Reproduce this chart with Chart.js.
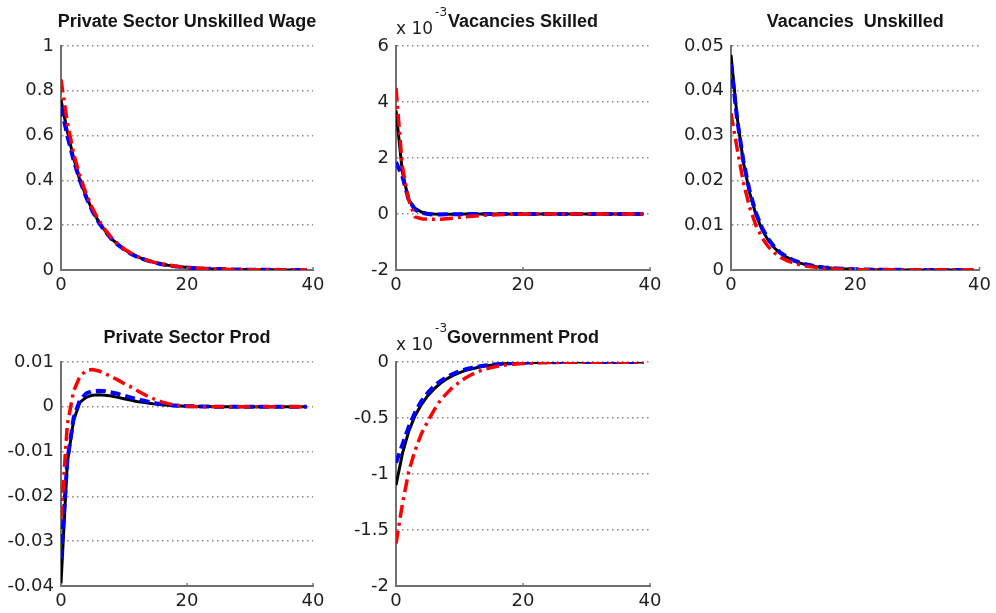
<!DOCTYPE html>
<html><head><meta charset="utf-8">
<script src="https://cdn.jsdelivr.net/npm/chart.js@4.4.0/dist/chart.umd.min.js"></script>
<style>
html,body{margin:0;padding:0;background:#fff;}
body{width:996px;height:613px;position:relative;overflow:hidden;}
canvas{position:absolute;}
</style></head><body>
<canvas id="c1" width="330" height="300" style="left:0;top:0"></canvas>
<canvas id="c2" width="330" height="300" style="left:340px;top:0"></canvas>
<canvas id="c3" width="326" height="300" style="left:670px;top:0"></canvas>
<canvas id="c4" width="330" height="303" style="left:0;top:310px"></canvas>
<canvas id="c5" width="330" height="303" style="left:340px;top:310px"></canvas>
<script>
// ---- categories (periods after the shock) ----
const periods = Array.from({length: 40}, (_, i) => i);
const xTickValues = [0, 20, 40];
const xTickLabels = ['0', '20', '40'];

// ---- Private Sector Unskilled Wage ----
const wageTicks = [0, 0.2, 0.4, 0.6, 0.8, 1];
const wageTickLabels = ['0', '0.2', '0.4', '0.6', '0.8', '1'];
const wageBlack = [0.76,0.62,0.50,0.40,0.33,0.265,0.215,0.175,0.14,0.115,
  0.093,0.075,0.061,0.05,0.04,0.032,0.026,0.021,0.017,0.014,
  0.011,0.009,0.0075,0.006,0.005,0.004,0.0033,0.0027,0.0022,0.0018,
  0.0014,0.0012,0.001,0.0008,0.0006,0.0005,0.0004,0.0003,0.0003,0.0002];
const wageBlue = [0.73,0.60,0.49,0.40,0.325,0.262,0.212,0.172,0.139,0.113,
  0.092,0.074,0.06,0.049,0.04,0.032,0.026,0.021,0.017,0.014,
  0.011,0.009,0.0075,0.006,0.005,0.004,0.0033,0.0027,0.0022,0.0018,
  0.0014,0.0012,0.001,0.0008,0.0006,0.0005,0.0004,0.0003,0.0003,0.0002];
const wageRed = [0.85,0.66,0.52,0.42,0.34,0.275,0.222,0.18,0.145,0.118,
  0.095,0.077,0.062,0.05,0.041,0.033,0.027,0.022,0.018,0.014,
  0.011,0.009,0.0075,0.006,0.005,0.004,0.0033,0.0027,0.0022,0.0018,
  0.0014,0.0012,0.001,0.0008,0.0006,0.0005,0.0004,0.0003,0.0003,0.0002];

// ---- Vacancies Skilled (values in units of 10^-3) ----
const vsTicks = [-2, 0, 2, 4, 6];
const vsTickLabels = ['-2', '0', '2', '4', '6'];
const vsBlack = [3.7,1.5,0.5,0.2,0.07,0.02,0,-0.01,-0.01,-0.01,
  -0.005,0,0,0,0,0,0,0,0,0,
  0,0,0,0,0,0,0,0,0,0,
  0,0,0,0,0,0,0,0,0,0];
const vsBlue = [1.85,1.35,0.5,0.15,0.04,0,-0.02,-0.02,-0.01,-0.01,
  -0.005,0,0,0,0,0,0,0,0,0,
  0,0,0,0,0,0,0,0,0,0,
  0,0,0,0,0,0,0,0,0,0];
const vsRed = [4.5,1.7,0.5,-0.1,-0.17,-0.19,-0.19,-0.19,-0.17,-0.15,
  -0.12,-0.1,-0.08,-0.06,-0.045,-0.035,-0.025,-0.018,-0.012,-0.008,
  -0.005,-0.003,-0.002,-0.001,0,0,0,0,0,0,
  0,0,0,0,0,0,0,0,0,0];

// ---- Vacancies Unskilled ----
const vuTicks = [0, 0.01, 0.02, 0.03, 0.04, 0.05];
const vuTickLabels = ['0', '0.01', '0.02', '0.03', '0.04', '0.05'];
const vuBlack = [0.048,0.034,0.024,0.0172,0.0124,0.009,0.0066,0.0049,0.0037,0.0028,
  0.0021,0.0016,0.0012,0.0009,0.0007,0.00055,0.00042,0.00032,0.00025,0.0002,
  0.00015,0.00012,0.0001,0.00008,0.00006,0.00005,0.00004,0.00003,0.00002,0.00002,
  0.00001,0.00001,0,0,0,0,0,0,0,0];
const vuBlue = [0.046,0.0335,0.0243,0.0176,0.0128,0.0094,0.0069,0.0051,0.0038,0.0029,
  0.0022,0.0017,0.0013,0.001,0.00075,0.00058,0.00045,0.00035,0.00027,0.00021,
  0.00016,0.00012,0.0001,0.00008,0.00006,0.00005,0.00004,0.00003,0.00002,0.00002,
  0.00001,0.00001,0,0,0,0,0,0,0,0];
const vuRed = [0.035,0.027,0.0195,0.014,0.01,0.0072,0.0052,0.0038,0.0028,0.0021,
  0.0016,0.0012,0.0009,0.0007,0.00052,0.0004,0.0003,0.00023,0.00018,0.00014,
  0.0001,0.00008,0.00006,0.00005,0.00004,0.00003,0.00002,0.00002,0.00001,0.00001,
  0,0,0,0,0,0,0,0,0,0];

// ---- Private Sector Prod ----
const ppTicks = [-0.04, -0.03, -0.02, -0.01, 0, 0.01];
const ppTickLabels = ['-0.04', '-0.03', '-0.02', '-0.01', '0', '0.01'];
const ppBlack = [-0.0394,-0.0125,-0.003,0.001,0.0021,0.0026,0.0027,0.0026,0.0024,0.0021,
  0.0018,0.0015,0.0012,0.001,0.0008,0.0006,0.00045,0.00035,0.00025,0.0002,
  0.00015,0.0001,0.00008,0.00006,0.00004,0.00003,0.00002,0.00001,0,0,
  0,0,0,0,0,0,0,0,0,0];
const ppBlue = [-0.034,-0.012,-0.0025,0.0015,0.003,0.0035,0.0036,0.0035,0.0032,0.0029,
  0.0025,0.0021,0.0017,0.0014,0.0011,0.0008,0.0006,0.0004,0.0003,0.0002,
  0.00015,0.0001,0.00008,0.00006,0.00004,0.00003,0.00002,0.00001,0,0,
  0,0,0,0,0,0,0,0,0,0];
const ppRed = [-0.025,-0.004,0.0035,0.0068,0.0081,0.0083,0.008,0.0074,0.0067,0.006,
  0.0052,0.0045,0.0037,0.0029,0.0022,0.0016,0.0011,0.0007,0.0004,0.0002,
  0.0001,0.00005,0,0,0,0,0,0,0,0,
  0,0,0,0,0,0,0,0,0,0];

// ---- Government Prod (values in units of 10^-3) ----
const gpTicks = [-2, -1.5, -1, -0.5, 0];
const gpTickLabels = ['-2', '-1.5', '-1', '-0.5', '0'];
const gpBlack = [-1.1,-0.82,-0.62,-0.48,-0.38,-0.3,-0.24,-0.19,-0.15,-0.12,
  -0.095,-0.075,-0.06,-0.047,-0.036,-0.028,-0.021,-0.016,-0.012,-0.009,
  -0.007,-0.005,-0.004,-0.003,-0.002,-0.0015,-0.001,-0.0008,-0.0006,-0.0004,
  -0.0003,-0.0002,-0.0001,0,0,0,0,0,0,0];
const gpBlue = [-0.9,-0.74,-0.58,-0.45,-0.35,-0.275,-0.215,-0.17,-0.135,-0.105,
  -0.083,-0.065,-0.051,-0.04,-0.031,-0.024,-0.019,-0.015,-0.011,-0.008,
  -0.006,-0.0045,-0.0035,-0.0025,-0.002,-0.0015,-0.001,-0.0008,-0.0006,-0.0004,
  -0.0003,-0.0002,-0.0001,0,0,0,0,0,0,0];
const gpRed = [-1.62,-1.27,-0.98,-0.79,-0.64,-0.53,-0.43,-0.34,-0.28,-0.22,
  -0.18,-0.14,-0.11,-0.085,-0.065,-0.05,-0.038,-0.029,-0.022,-0.017,
  -0.013,-0.01,-0.007,-0.005,-0.004,-0.003,-0.002,-0.0015,-0.001,-0.0008,
  -0.0006,-0.0004,-0.0003,-0.0002,-0.0001,0,0,0,0,0];

// ---- drawing ----
function pts(arr) { return arr.map((v, i) => ({x: periods[i], y: v})); }
const tickFont = {family: "'DejaVu Sans', sans-serif", size: 18};
const titleFont = "bold 18px 'Liberation Sans', Arial, sans-serif";

function panel(id, cfg) {
  const decor = {
    id: 'decor',
    afterDraw(chart) {
      const c = chart.ctx, a = chart.chartArea;
      c.save();
      c.fillStyle = '#151515';
      c.font = titleFont; c.textAlign = 'center'; c.textBaseline = 'middle';
      c.fillText(cfg.title, (a.left + a.right) / 2, a.top - 23.5);
      if (cfg.exp) {
        c.textAlign = 'left';
        c.fillStyle = '#1f1f1f';
        c.font = "17px 'DejaVu Sans', sans-serif";
        c.fillText('x 10', a.left, a.top - 16);
        const w = c.measureText('x 10').width;
        c.font = "12px 'DejaVu Sans', sans-serif";
        c.fillText(cfg.exp, a.left + w + 2, a.top - 33);
      }
      const xs = chart.scales.x;
      c.strokeStyle = '#777'; c.lineWidth = 1.5;
      xTickValues.forEach(v => {
        const px = xs.getPixelForValue(v);
        c.beginPath(); c.moveTo(px, a.bottom); c.lineTo(px, a.bottom - 3); c.stroke();
      });
      c.restore();
    }
  };
  new Chart(document.getElementById(id), {
    type: 'line',
    data: {datasets: [
      {data: pts(cfg.black), borderColor: '#000000', borderWidth: 3, order: 2},
      {data: pts(cfg.blue), borderColor: '#0000ff', borderWidth: 4, borderDash: [10, 5], order: 1},
      {data: pts(cfg.red), borderColor: '#ff0000', borderWidth: 3.5, borderDash: [13, 5, 3, 5], order: 0}
    ]},
    options: {
      responsive: false, animation: false, devicePixelRatio: 1,
      layout: {padding: {left: 0, top: cfg.padTop, right: cfg.padRight, bottom: 0}},
      elements: {point: {radius: 0}, line: {tension: 0, fill: false}},
      plugins: {legend: {display: false}, tooltip: {enabled: false}, title: {display: false}},
      scales: {
        x: {
          type: 'linear', min: 0, max: 40,
          afterBuildTicks: s => { s.ticks = xTickValues.map(v => ({value: v})); },
          afterFit: s => { s.height = cfg.xHeight; },
          ticks: {font: tickFont, color: '#1f1f1f', padding: 5, maxRotation: 0, autoSkip: false,
                  callback: v => xTickLabels[xTickValues.indexOf(v)]},
          grid: {display: false, drawTicks: false},
          border: {display: true, color: '#707070', width: 2}
        },
        y: {
          type: 'linear', min: cfg.yTicks[0], max: cfg.yTicks[cfg.yTicks.length - 1],
          afterBuildTicks: s => { s.ticks = cfg.yTicks.map(v => ({value: v})); },
          afterFit: s => { s.width = cfg.yWidth; },
          ticks: {font: tickFont, color: '#1f1f1f', padding: 7, autoSkip: false,
                  callback: v => cfg.yLabels[cfg.yTicks.indexOf(v)]},
          grid: {display: true, drawTicks: false, color: '#8a8a80', lineWidth: 1.5},
          border: {display: true, color: '#707070', width: 2, dash: [1.5, 3.5]}
        }
      }
    },
    plugins: [decor]
  });
}

panel('c1', {title: 'Private Sector Unskilled Wage', black: wageBlack, blue: wageBlue, red: wageRed,
  yTicks: wageTicks, yLabels: wageTickLabels, padTop: 46, padRight: 17, yWidth: 61, xHeight: 30});
panel('c2', {title: 'Vacancies Skilled', exp: '-3', black: vsBlack, blue: vsBlue, red: vsRed,
  yTicks: vsTicks, yLabels: vsTickLabels, padTop: 46, padRight: 20, yWidth: 56, xHeight: 30});
panel('c3', {title: 'Vacancies  Unskilled', black: vuBlack, blue: vuBlue, red: vuRed,
  yTicks: vuTicks, yLabels: vuTickLabels, padTop: 46, padRight: 11, yWidth: 61, xHeight: 30});
panel('c4', {title: 'Private Sector Prod', black: ppBlack, blue: ppBlue, red: ppRed,
  yTicks: ppTicks, yLabels: ppTickLabels, padTop: 52, padRight: 17, yWidth: 61, xHeight: 27});
panel('c5', {title: 'Government Prod', exp: '-3', black: gpBlack, blue: gpBlue, red: gpRed,
  yTicks: gpTicks, yLabels: gpTickLabels, padTop: 52, padRight: 20, yWidth: 56, xHeight: 27});
</script>
</body></html>
